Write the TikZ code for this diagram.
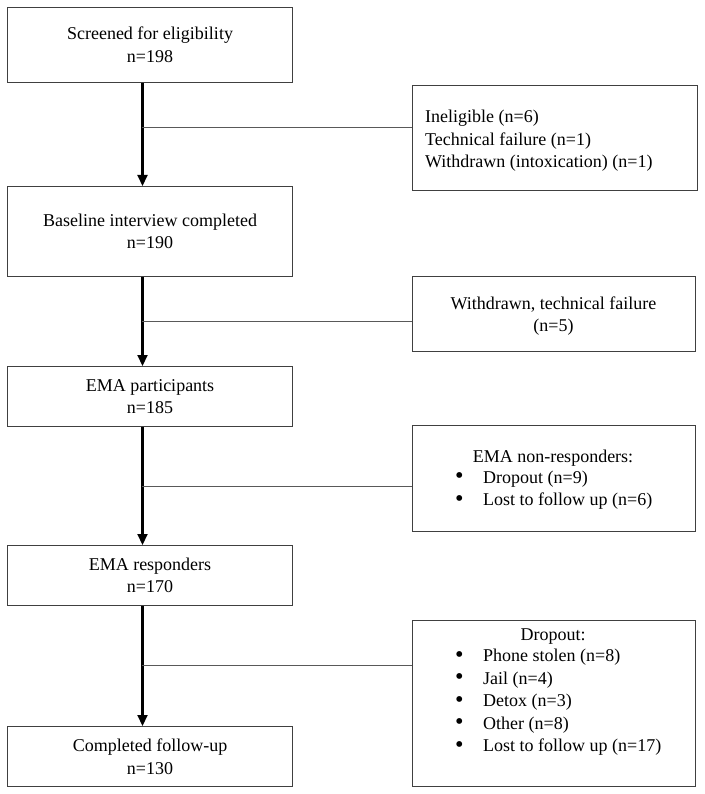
\documentclass[tikz,border=0pt]{standalone}
\usepackage{fontspec}
\setmainfont{Liberation Serif}
\usetikzlibrary{arrows.meta}
\newcommand{\blt}{\makebox[28pt][l]{\raisebox{-0.5pt}{\scalebox{1.35}{•}}}}
\begin{document}
\begin{tikzpicture}[x=1pt,y=-1pt,
  every node/.style={font=\fontsize{18}{22.5}\selectfont},
  lbox/.style={draw=black!75,line width=1pt,minimum width=285pt,inner sep=0pt,align=center,anchor=north west},
  rbox/.style={draw=black!75,line width=1pt,minimum width=283pt,inner sep=0pt,anchor=north west},
  arr/.style={line width=2.1pt,-{Triangle[length=11pt,width=10pt]}},
  branch/.style={draw=black!65,line width=0.9pt}]
\useasboundingbox (0,0) rectangle (704,794);
% left boxes
\node[lbox,minimum height=75pt] (b1) at (7,7) {Screened for eligibility\\n=198};
\node[lbox,minimum height=90pt] (b2) at (7,186) {Baseline interview completed\\n=190};
\node[lbox,minimum height=60pt] (b3) at (7,366) {EMA participants\\n=185};
\node[lbox,minimum height=60pt] (b4) at (7,545) {EMA responders\\n=170};
\node[lbox,minimum height=60pt] (b5) at (7,726) {Completed follow-up\\n=130};
% right boxes
\node[rbox,minimum width=285pt,minimum height=105pt] (r1) at (412,85) {};
\node[anchor=west,align=left,inner sep=0pt] (t1) at (425,141) {Ineligible (n=6)\\Technical failure (n=1)\\Withdrawn (intoxication) (n=1)};
\node[rbox,minimum height=75pt] (r2) at (412,276) {};
\node[align=center,inner sep=0pt] (t2) at (553.5,316) {Withdrawn, technical failure\\(n=5)};
\node[rbox,minimum height=106pt] (r3) at (412,425) {};
\node[inner sep=0pt] (h3) at (553,458) {EMA non-responders:};
\node[anchor=north west,align=left,inner sep=0pt] (l3) at (455,470.5) {\blt Dropout (n=9)\\\blt Lost to follow up (n=6)};
\node[rbox,minimum height=166pt] (r4) at (412,620) {};
\node[inner sep=0pt] (h4) at (553,637) {Dropout:};
\node[anchor=north west,align=left,inner sep=0pt] (l4) at (455,649) {\blt Phone stolen (n=8)\\\blt Jail (n=4)\\\blt Detox (n=3)\\\blt Other (n=8)\\\blt Lost to follow up (n=17)};
% junctions
\coordinate (j1) at (142,127);
\coordinate (j2) at (142,321);
\coordinate (j3) at (142,486);
\coordinate (j4) at (142,665);
% arrows
\draw[arr] ([xshift=-7.5pt]b1.south) -- ([xshift=-7.5pt]b2.north);
\draw[arr] ([xshift=-7.5pt]b2.south) -- ([xshift=-7.5pt]b3.north);
\draw[arr] ([xshift=-7.5pt]b3.south) -- ([xshift=-7.5pt]b4.north);
\draw[arr] ([xshift=-7.5pt]b4.south) -- ([xshift=-7.5pt]b5.north);
% branches
\draw[branch] (j1) -- (j1 -| r1.west);
\draw[branch] (j2) -- (j2 -| r2.west);
\draw[branch] (j3) -- (j3 -| r3.west);
\draw[branch] (j4) -- (j4 -| r4.west);
\end{tikzpicture}
\end{document}
